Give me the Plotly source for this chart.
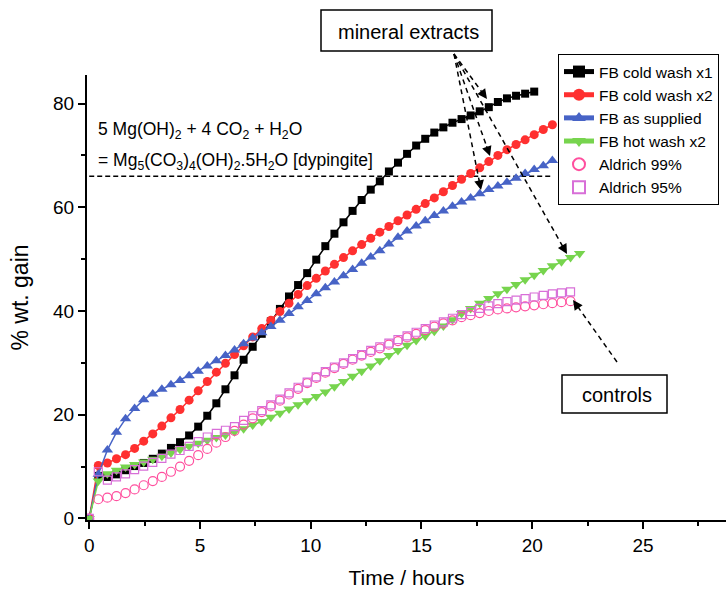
import math
import plotly.graph_objects as go

# ---------------- data ----------------
hours = [0, 0.41, 0.82, 1.23, 1.64, 2.05, 2.46, 2.87, 3.28, 3.69, 4.10, 4.51, 4.92, 5.33,
         5.74, 6.15, 6.56, 6.97, 7.38, 7.79, 8.20, 8.61, 9.02, 9.43, 9.84, 10.25, 10.66,
         11.07, 11.48, 11.89, 12.30, 12.71, 13.12, 13.53, 13.94, 14.35, 14.76, 15.17, 15.58,
         15.99, 16.40, 16.81, 17.22, 17.63, 18.04, 18.45, 18.86, 19.27, 19.68, 20.09, 20.50,
         20.91, 21.32, 21.73, 22.14]

fb_cold_x1 = [0, 8.2, 8.0, 8.5, 9.3, 10.1, 10.7, 11.5, 12.5, 13.6, 14.7, 16.0, 17.7, 19.8,
              22.2, 24.9, 27.6, 30.6, 33.1, 35.6, 38.0, 40.4, 42.8, 45.0, 47.3, 49.9, 52.5,
              54.9, 57.1, 59.3, 61.4, 63.4, 65.0, 66.9, 68.6, 70.3, 71.9, 73.2, 74.4, 75.4,
              76.3, 77.0, 77.7, 78.5, 79.3, 80.3, 81.0, 81.5, 81.9, 82.3]

fb_cold_x2 = [0, 10.2, 10.7, 11.5, 12.3, 13.5, 14.9, 16.3, 17.8, 19.4, 21.0, 22.8, 24.6, 26.4,
              28.2, 29.9, 31.6, 33.3, 35.0, 36.6, 38.2, 39.9, 41.5, 43.2, 44.9, 46.3, 47.7,
              49.0, 50.3, 51.6, 52.8, 54.0, 55.2, 56.3, 57.4, 58.5, 59.6, 60.7, 61.8, 63.0,
              64.2, 65.4, 66.5, 67.6, 68.8, 70.0, 71.1, 72.1, 73.0, 74.0, 75.0, 75.9]

fb_supplied = [0, 8.5, 13.2, 16.6, 19.2, 21.2, 22.9, 24.0, 24.9, 25.8, 26.6, 27.5, 28.4, 29.4,
               30.4, 31.4, 32.5, 33.7, 34.8, 35.8, 37.0, 38.2, 39.5, 40.8, 42.0, 43.3, 44.5,
               45.6, 46.8, 48.0, 49.2, 50.4, 51.6, 52.9, 54.2, 55.4, 56.4, 57.4, 58.4, 59.3,
               60.2, 61.0, 61.8, 62.6, 63.4, 64.1, 64.8, 65.6, 66.5, 67.3, 68.0, 69.0]

fb_hot_x2 = [0, 7.2, 8.6, 9.3, 9.9, 10.4, 10.9, 11.4, 12.0, 12.6, 13.3, 13.9, 14.5, 15.1,
             15.6, 16.1, 16.7, 17.3, 18.0, 18.7, 19.5, 20.3, 21.1, 21.9, 22.7, 23.5, 24.4,
             25.4, 26.4, 27.4, 28.4, 29.4, 30.4, 31.4, 32.4, 33.4, 34.3, 35.2, 36.1, 37.1,
             38.3, 39.5, 40.5, 41.5, 42.4, 43.3, 44.2, 45.1, 46.0, 46.9, 47.8, 48.7, 49.5,
             50.3, 51.1]

aldrich_99 = [0, 3.7, 4.0, 4.3, 4.9, 5.6, 6.4, 7.2, 8.0, 9.0, 10.0, 11.1, 12.2, 13.4, 14.6,
              15.7, 16.9, 18.1, 19.3, 20.5, 21.6, 22.7, 23.9, 25.0, 26.1, 27.1, 28.1, 29.0,
              29.8, 30.6, 31.4, 32.1, 32.8, 33.5, 34.2, 34.9, 35.6, 36.3, 37.0, 37.6, 38.2,
              38.8, 39.2, 39.6, 40.0, 40.3, 40.5, 40.7, 40.9, 41.1, 41.3, 41.5, 41.7, 41.9]

aldrich_95 = [0, 9.0, 7.4, 8.0, 8.6, 9.4, 10.1, 10.8, 11.6, 12.4, 13.1, 13.9, 14.8, 15.7,
              16.4, 17.0, 17.7, 18.9, 19.8, 20.8, 21.9, 23.0, 24.2, 25.3, 26.3, 27.3, 28.3,
              29.2, 30.0, 30.8, 31.6, 32.4, 33.1, 33.8, 34.5, 35.2, 35.9, 36.6, 37.3, 37.9,
              38.6, 39.3, 39.9, 40.5, 41.0, 41.4, 41.8, 42.1, 42.4, 42.7, 43.0, 43.3, 43.5, 43.7]

dypingite_level = 66.0
dypingite_end = 20.9

x_ticks = [0, 5, 10, 15, 20, 25]
y_ticks = [0, 20, 40, 60, 80]

# ---------------- layout geometry ----------------
W, H = 726, 593
L, R, T, B = 87, 0, 75, 73
PW, PH = W - L - R, H - T - B

def px(xp):
    return (xp - L) / PW

def py(yp):
    return (H - B - yp) / PH

FONT = "Liberation Sans, Arial, sans-serif"

fig = go.Figure()

series = [
    ("FB cold wash x1", fb_cold_x1, "#000000", "square", 8, True),
    ("FB cold wash x2", fb_cold_x2, "#FF3030", "circle", 9, True),
    ("FB as supplied", fb_supplied, "#4763C6", "triangle-up", 10, True),
    ("FB hot wash x2", fb_hot_x2, "#77D44E", "triangle-down", 10, True),
    ("Aldrich 99%", aldrich_99, "#FF4F9E", "circle-open", 9, False),
    ("Aldrich 95%", aldrich_95, "#D86FD8", "square-open", 8, False),
]

for name, vals, col, sym, size, line in series:
    fig.add_trace(go.Scatter(
        x=hours[:len(vals)], y=vals, name=name,
        mode="lines+markers" if line else "markers",
        line=dict(color=col, width=1.5),
        marker=dict(color=col, symbol=sym, size=size,
                    line=dict(color=col, width=1.2 if not line else 0)),
    ))

# dashed dypingite line
fig.add_shape(type="line", xref="x", yref="y", x0=0, x1=dypingite_end,
              y0=dypingite_level, y1=dypingite_level,
              line=dict(color="black", width=1.5, dash="5px,3px"), layer="below")

# equation text
fig.add_annotation(xref="paper", yref="paper", x=px(96), y=py(130), xanchor="left",
                   yanchor="middle", showarrow=False,
                   text="5 Mg(OH)<sub>2</sub> + 4 CO<sub>2</sub> + H<sub>2</sub>O",
                   font=dict(family=FONT, size=17.5, color="black"))
fig.add_annotation(xref="paper", yref="paper", x=px(96), y=py(161), xanchor="left",
                   yanchor="middle", showarrow=False,
                   text="= Mg<sub>5</sub>(CO<sub>3</sub>)<sub>4</sub>(OH)<sub>2</sub>.5H<sub>2</sub>O [dypingite]",
                   font=dict(family=FONT, size=17.5, color="black"))

# labelled boxes (pixel rectangles) with centred text
boxes = [("mineral extracts", (321, 10, 492, 51)), ("controls", (562, 375, 667, 413))]
for label, (x0, y0, x1, y1) in boxes:
    fig.add_shape(type="rect", xref="paper", yref="paper",
                  x0=px(x0), x1=px(x1), y0=py(y1), y1=py(y0),
                  line=dict(color="black", width=1.5), fillcolor="white")
    fig.add_annotation(xref="paper", yref="paper", x=px((x0 + x1) / 2 + 2),
                       y=py((y0 + y1) / 2 + 1), xanchor="center", yanchor="middle",
                       showarrow=False, text=label,
                       font=dict(family=FONT, size=20, color="black"))

# dashed arrows (pixel endpoints: start -> tip)
arrows = [((454, 54), (487, 99)), ((454, 54), (490, 156)), ((454, 54), (481, 190)),
          ((454, 54), (567, 254)), ((617, 362), (573, 300))]
for (sx, sy), (tx, ty) in arrows:
    dx, dy = sx - tx, sy - ty
    d = math.hypot(dx, dy)
    ux, uy = dx / d, dy / d
    hx, hy = tx + ux * 10, ty + uy * 10
    fig.add_shape(type="line", xref="paper", yref="paper",
                  x0=px(sx), y0=py(sy), x1=px(hx), y1=py(hy),
                  line=dict(color="black", width=1.5, dash="5px,4px"))
    fig.add_annotation(xref="paper", yref="paper", x=px(tx), y=py(ty), text="",
                       showarrow=True, ax=ux * 12, ay=uy * 12, arrowhead=2,
                       arrowsize=1.3, arrowwidth=1.5, arrowcolor="black", standoff=0)

fig.update_layout(
    width=W, height=H,
    margin=dict(l=L, r=R, t=T, b=B, pad=0, autoexpand=False),
    paper_bgcolor="white", plot_bgcolor="white",
    font=dict(family=FONT, color="black"),
    showlegend=True,
    legend=dict(x=px(558), y=py(54), xanchor="left", yanchor="top",
                bordercolor="black", borderwidth=1, bgcolor="white",
                font=dict(family=FONT, size=15.5, color="black"),
                itemsizing="constant", tracegroupgap=0),
    xaxis=dict(range=[-0.1, (W - L) / 22.15 - 0.1], showgrid=False, zeroline=False,
               showline=True, linecolor="black", linewidth=2,
               ticks="outside", ticklen=7, tickwidth=2, tickcolor="black",
               tickvals=x_ticks, ticktext=[str(v) for v in x_ticks],
               tickfont=dict(family=FONT, size=19),
               minor=dict(ticks="outside", ticklen=4, tickwidth=2, tickcolor="black", dtick=2.5, tick0=0),
               title=dict(text="Time / hours", font=dict(family=FONT, size=21), standoff=16)),
    yaxis=dict(range=[-0.3, 85.5], showgrid=False, zeroline=False,
               showline=True, linecolor="black", linewidth=2,
               ticks="outside", ticklen=7, tickwidth=2, tickcolor="black",
               tickvals=y_ticks, ticktext=[str(v) for v in y_ticks],
               tickfont=dict(family=FONT, size=19),
               minor=dict(ticks="outside", ticklen=4, tickwidth=2, tickcolor="black", dtick=10, tick0=0),
               title=dict(text="% wt. gain", font=dict(family=FONT, size=23), standoff=18)),
)

fig.write_html("out.html", config={"displayModeBar": False},
               post_script="document.body.style.margin='0px';")
